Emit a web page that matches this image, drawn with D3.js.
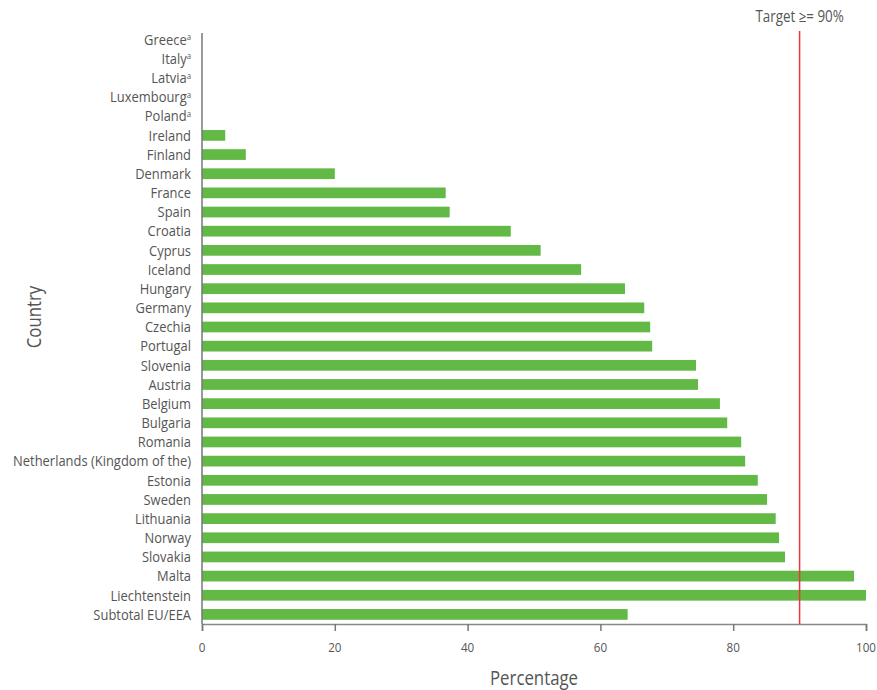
<!DOCTYPE html>
<html><head><meta charset="utf-8">
<script src="https://cdn.jsdelivr.net/npm/d3@7"></script>
<style>
body{margin:0;background:#fff;}
text{font-family:"Open Sans","Liberation Sans",sans-serif;fill:#555;}
</style></head><body>
<svg id="c" width="877" height="690"></svg>
<script>
const countries = ["Greece","Italy","Latvia","Luxembourg","Poland","Ireland","Finland","Denmark","France","Spain","Croatia","Cyprus","Iceland","Hungary","Germany","Czechia","Portugal","Slovenia","Austria","Belgium","Bulgaria","Romania","Netherlands (Kingdom of the)","Estonia","Sweden","Lithuania","Norway","Slovakia","Malta","Liechtenstein","Subtotal EU/EEA"];
const superscripts = ["a","a","a","a","a","","","","","","","","","","","","","","","","","","","","","","","","","",""];
const values = [null,null,null,null,null,3.5,6.6,20.0,36.7,37.3,46.5,51.0,57.1,63.7,66.6,67.5,67.8,74.4,74.7,78.0,79.1,81.2,81.8,83.7,85.1,86.4,86.9,87.8,98.2,100,64.1];
const xTicks = [0,20,40,60,80,100];
const target = 90;
const targetLabel = "Target ≥= 90%";

const svg = d3.select("#c");
const x = d3.scaleLinear().domain([0,100]).range([202,866]);
const y = d3.scaleBand().domain(countries).range([30,624]).paddingInner(0.44).paddingOuter(0.22);

// measure condensing factor
const probe = svg.append("text").style("font-size","15px").text("Netherlands (Kingdom of the)");
const K = 178 / probe.node().getComputedTextLength();
probe.remove();

function ctext(parent, tx, ty, size, anchor){
  return parent.append("g").attr("transform",`translate(${tx},${ty}) scale(${K},1)`)
    .append("text").attr("text-anchor",anchor).style("font-size",size+"px");
}

// bars
svg.append("g").selectAll("rect").data(countries.map((c,i)=>({c,v:values[i]})).filter(d=>d.v!=null))
  .enter().append("rect")
  .attr("x",x(0)).attr("y",d=>y(d.c)).attr("width",d=>x(d.v)-x(0)).attr("height",y.bandwidth())
  .attr("fill","#62b946");

// y axis
svg.append("line").attr("x1",x(0)).attr("x2",x(0)).attr("y1",33).attr("y2",624).attr("stroke","#777").attr("stroke-width",1.5);
countries.forEach((d,i)=>{
  const t = ctext(svg, 191, y(d)+y.bandwidth()/2, 15, "end").attr("dy","0.35em");
  t.append("tspan").text(d);
  if(superscripts[i]) t.append("tspan").text(superscripts[i]).attr("dy","-0.5em").style("font-size","9px");
});

// x axis
const xa = svg.append("g").attr("transform",`translate(0,624)`)
  .call(d3.axisBottom(x).tickValues(xTicks).tickSize(7).tickSizeOuter(7).tickFormat(""));
xa.select(".domain").attr("stroke","#888").attr("stroke-width",1.5);
xa.selectAll(".tick line").attr("stroke","#777").attr("stroke-width",1.5);
xTicks.forEach(v=>{
  ctext(svg, x(v), 652, 13.5, "middle").text(v);
});

// target line
svg.append("line").attr("x1",x(target)).attr("x2",x(target)).attr("y1",31).attr("y2",624)
  .attr("stroke","#e8383d").attr("stroke-width",1.5);
ctext(svg, x(target), 22, 15.5, "middle").text(targetLabel);

// axis titles
ctext(svg, 534, 685, 19.5, "middle").text("Percentage");
svg.append("g").attr("transform","translate(41,317) rotate(-90) scale("+K+",1)")
  .append("text").attr("text-anchor","middle").style("font-size","19.5px").text("Country");
</script></body></html>
